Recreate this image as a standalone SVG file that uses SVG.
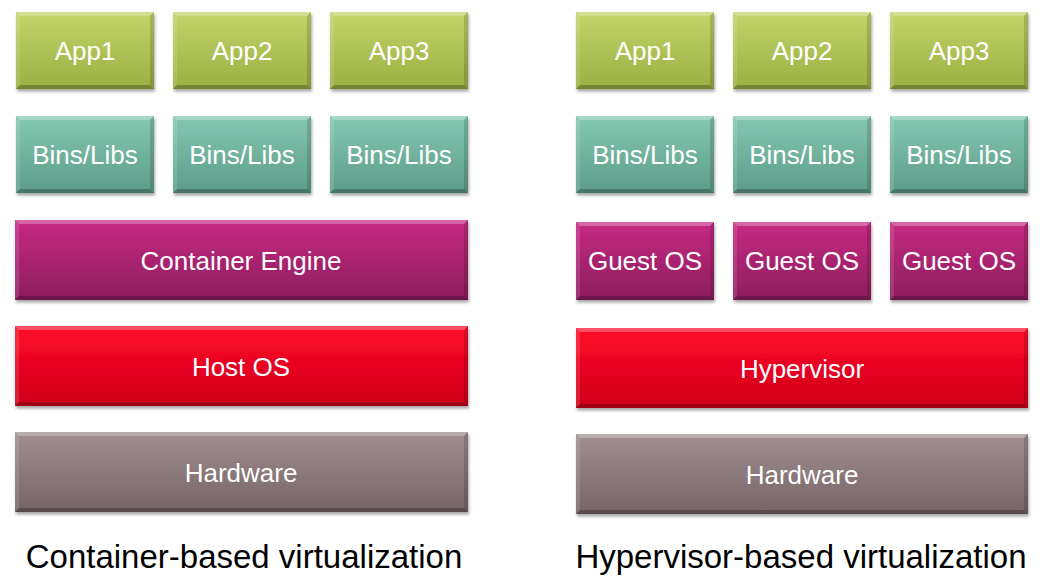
<svg xmlns="http://www.w3.org/2000/svg" xmlns:xlink="http://www.w3.org/1999/xlink" width="1046" height="576" viewBox="0 0 1046 576">
  <defs>
    <linearGradient id="g-app" x1="0" y1="0" x2="0" y2="1">
      <stop offset="0" stop-color="#c3d56a"/>
      <stop offset="1" stop-color="#9aae42"/>
    </linearGradient>
    <linearGradient id="g-lib" x1="0" y1="0" x2="0" y2="1">
      <stop offset="0" stop-color="#84c8b2"/>
      <stop offset="1" stop-color="#5d9c89"/>
    </linearGradient>
    <linearGradient id="g-os" x1="0" y1="0" x2="0" y2="1">
      <stop offset="0" stop-color="#c72a82"/>
      <stop offset="1" stop-color="#8c1d5e"/>
    </linearGradient>
    <linearGradient id="g-host" x1="0" y1="0" x2="0" y2="1">
      <stop offset="0" stop-color="#ff0a2a"/>
      <stop offset="1" stop-color="#cf0019"/>
    </linearGradient>
    <linearGradient id="g-hw" x1="0" y1="0" x2="0" y2="1">
      <stop offset="0" stop-color="#a08e90"/>
      <stop offset="1" stop-color="#766466"/>
    </linearGradient>
    <filter id="shadow" x="-5%" y="-10%" width="110%" height="130%">
      <feDropShadow dx="1" dy="2.5" stdDeviation="1.6" flood-color="#000" flood-opacity="0.35"/>
    </filter>
    <!-- bevel edges for each box size -->
    <g id="bevel-s">
      <path class="bt" d="M0 0h138l-4 4H4z"/>
      <path class="bl" d="M0 0v77l4-4V4z"/>
      <path class="br" d="M138 0v77l-4-4V4z"/>
      <path class="bb" d="M0 77h138l-4-4H4z"/>
    </g>
    <g id="bevel-g">
      <path class="bt" d="M0 0h138l-4 4H4z"/>
      <path class="bl" d="M0 0v78l4-4V4z"/>
      <path class="br" d="M138 0v78l-4-4V4z"/>
      <path class="bb" d="M0 78h138l-4-4H4z"/>
    </g>
    <g id="bevel-wl">
      <path class="bt" d="M0 0h453l-4 4H4z"/>
      <path class="bl" d="M0 0v80l4-4V4z"/>
      <path class="br" d="M453 0v80l-4-4V4z"/>
      <path class="bb" d="M0 80h453l-4-4H4z"/>
    </g>
    <g id="bevel-wr">
      <path class="bt" d="M0 0h452l-4 4H4z"/>
      <path class="bl" d="M0 0v80l4-4V4z"/>
      <path class="br" d="M452 0v80l-4-4V4z"/>
      <path class="bb" d="M0 80h452l-4-4H4z"/>
    </g>
  </defs>
  <style>
    .box { filter: url(#shadow); }
    .app { fill: url(#g-app); }
    .lib { fill: url(#g-lib); }
    .os { fill: url(#g-os); }
    .host { fill: url(#g-host); }
    .hw { fill: url(#g-hw); }
    .bt { fill: #ffffff; fill-opacity: 0.28; }
    .bl { fill: #ffffff; fill-opacity: 0.12; }
    .br { fill: #000000; fill-opacity: 0.14; }
    .bb { fill: #000000; fill-opacity: 0.24; }
    .lbl { font-family: "Liberation Sans", Arial, sans-serif; font-size: 26px; fill: #ffffff; text-anchor: middle; }
    .title { font-family: "Liberation Sans", Arial, sans-serif; font-size: 33px; fill: #000000; text-anchor: middle; }
  </style>
  <rect width="1046" height="576" fill="#ffffff"/>

  <!-- Container-based stack -->
  <g id="c-app1"><rect class="box app" x="16" y="12" width="138" height="77"/><use xlink:href="#bevel-s" x="16" y="12"/><text class="lbl" x="85" y="60">App1</text></g>
  <g id="c-app2"><rect class="box app" x="173" y="12" width="138" height="77"/><use xlink:href="#bevel-s" x="173" y="12"/><text class="lbl" x="242" y="60">App2</text></g>
  <g id="c-app3"><rect class="box app" x="330" y="12" width="138" height="77"/><use xlink:href="#bevel-s" x="330" y="12"/><text class="lbl" x="399" y="60">App3</text></g>
  <g id="c-lib1"><rect class="box lib" x="16" y="116" width="138" height="77"/><use xlink:href="#bevel-s" x="16" y="116"/><text class="lbl" x="85" y="164">Bins/Libs</text></g>
  <g id="c-lib2"><rect class="box lib" x="173" y="116" width="138" height="77"/><use xlink:href="#bevel-s" x="173" y="116"/><text class="lbl" x="242" y="164">Bins/Libs</text></g>
  <g id="c-lib3"><rect class="box lib" x="330" y="116" width="138" height="77"/><use xlink:href="#bevel-s" x="330" y="116"/><text class="lbl" x="399" y="164">Bins/Libs</text></g>
  <g id="c-engine"><rect class="box os" x="15" y="220" width="453" height="80"/><use xlink:href="#bevel-wl" x="15" y="220"/><text class="lbl" x="241" y="270">Container Engine</text></g>
  <g id="c-host"><rect class="box host" x="15" y="326" width="453" height="80"/><use xlink:href="#bevel-wl" x="15" y="326"/><text class="lbl" x="241" y="376">Host OS</text></g>
  <g id="c-hw"><rect class="box hw" x="15" y="432" width="453" height="80"/><use xlink:href="#bevel-wl" x="15" y="432"/><text class="lbl" x="241" y="482">Hardware</text></g>

  <!-- Hypervisor-based stack -->
  <g id="h-app1"><rect class="box app" x="576" y="12" width="138" height="77"/><use xlink:href="#bevel-s" x="576" y="12"/><text class="lbl" x="645" y="60">App1</text></g>
  <g id="h-app2"><rect class="box app" x="733" y="12" width="138" height="77"/><use xlink:href="#bevel-s" x="733" y="12"/><text class="lbl" x="802" y="60">App2</text></g>
  <g id="h-app3"><rect class="box app" x="890" y="12" width="138" height="77"/><use xlink:href="#bevel-s" x="890" y="12"/><text class="lbl" x="959" y="60">App3</text></g>
  <g id="h-lib1"><rect class="box lib" x="576" y="116" width="138" height="77"/><use xlink:href="#bevel-s" x="576" y="116"/><text class="lbl" x="645" y="164">Bins/Libs</text></g>
  <g id="h-lib2"><rect class="box lib" x="733" y="116" width="138" height="77"/><use xlink:href="#bevel-s" x="733" y="116"/><text class="lbl" x="802" y="164">Bins/Libs</text></g>
  <g id="h-lib3"><rect class="box lib" x="890" y="116" width="138" height="77"/><use xlink:href="#bevel-s" x="890" y="116"/><text class="lbl" x="959" y="164">Bins/Libs</text></g>
  <g id="h-guest1"><rect class="box os" x="576" y="222" width="138" height="78"/><use xlink:href="#bevel-g" x="576" y="222"/><text class="lbl" x="645" y="270">Guest OS</text></g>
  <g id="h-guest2"><rect class="box os" x="733" y="222" width="138" height="78"/><use xlink:href="#bevel-g" x="733" y="222"/><text class="lbl" x="802" y="270">Guest OS</text></g>
  <g id="h-guest3"><rect class="box os" x="890" y="222" width="138" height="78"/><use xlink:href="#bevel-g" x="890" y="222"/><text class="lbl" x="959" y="270">Guest OS</text></g>
  <g id="h-hyper"><rect class="box host" x="576" y="328" width="452" height="80"/><use xlink:href="#bevel-wr" x="576" y="328"/><text class="lbl" x="802" y="378">Hypervisor</text></g>
  <g id="h-hw"><rect class="box hw" x="576" y="434" width="452" height="80"/><use xlink:href="#bevel-wr" x="576" y="434"/><text class="lbl" x="802" y="484">Hardware</text></g>

  <!-- no connectors in this diagram -->
  <g id="connectors"/>

  <!-- captions -->
  <text class="title" x="244" y="568">Container-based virtualization</text>
  <text class="title" x="801" y="568">Hypervisor-based virtualization</text>
</svg>
